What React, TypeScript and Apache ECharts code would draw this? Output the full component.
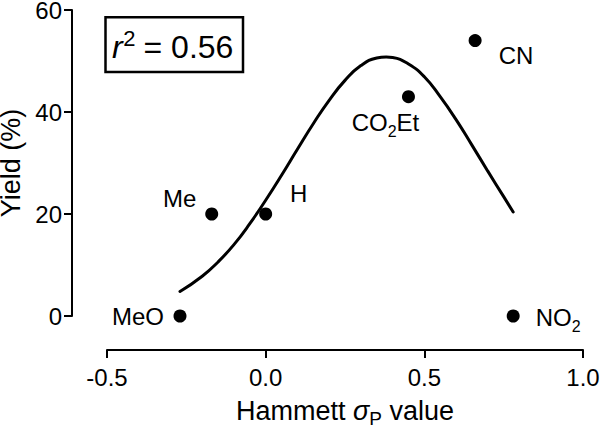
import React, { useEffect, useRef } from "react";
import * as echarts from "echarts";

// Hammett sigma_p values and yields
const substituents = ["MeO", "Me", "H", "CO2Et", "CN", "NO2"];
const labelTexts = ["MeO", "Me", "H", "CO{s|2}Et", "CN", "NO{s|2}"];
const sigmaP = [-0.27, -0.17, 0, 0.45, 0.66, 0.78];
const yieldPct = [0, 20, 20, 43, 54, 0];

// fitted curve
const fitX = [-0.27, -0.2, -0.15, -0.1, -0.05, 0, 0.05, 0.1, 0.15, 0.2, 0.25, 0.3, 0.35, 0.38, 0.4, 0.45, 0.5, 0.55, 0.6, 0.65, 0.7, 0.75, 0.78];
const fitY = [4.8, 7.8, 10.6, 14.0, 18.1, 22.7, 27.6, 32.7, 37.7, 42.3, 46.2, 49.1, 50.6, 50.8, 50.7, 49.4, 46.9, 43.0, 38.5, 33.5, 28.4, 23.4, 20.4];

const xTicks = { min: -0.5, max: 1.0, interval: 0.5 };
const yTicks = { min: 0, max: 60, interval: 20 };

const rSquared = "0.56";

// label offsets from point centers (style)
const labelOffsets = [
  [-42, 0],
  [-32, -16],
  [33, -21],
  [-23, 26],
  [41, 15],
  [45, 1],
];

const FONT = '"Liberation Sans", Arial, sans-serif';

export default function App() {
  const ref = useRef<HTMLDivElement>(null);
  useEffect(() => {
    document.body.style.margin = "0";
    const chart = echarts.init(ref.current!, null, { renderer: "svg" });
    const subRich = {
      s: { fontSize: 16, lineHeight: 16, verticalAlign: "bottom", color: "#000", fontFamily: FONT },
    };
    const option: any = {
      animation: false,
      backgroundColor: "#fff",
      textStyle: { fontFamily: FONT, color: "#000" },
      grid: { left: 107, right: 17, top: 10, bottom: 116, containLabel: false, outerBoundsMode: "none" },
      xAxis: {
        type: "value",
        min: xTicks.min,
        max: xTicks.max,
        interval: xTicks.interval,
        offset: 34,
        name: "Hammett {i|σ}{s|P} value",
        nameLocation: "middle",
        nameGap: 43,
        nameTextStyle: {
          fontSize: 27,
          color: "#000",
          fontFamily: FONT,
          lineHeight: 34,
          rich: {
            i: { fontSize: 27, fontStyle: "italic", lineHeight: 34, color: "#000", fontFamily: FONT },
            s: { fontSize: 19, lineHeight: 19, verticalAlign: "bottom", color: "#000", fontFamily: FONT },
          },
        },
        axisLine: { show: true, onZero: false, lineStyle: { color: "#000", width: 2 } },
        axisTick: { show: true, length: 8, lineStyle: { color: "#000", width: 2 } },
        axisLabel: {
          fontSize: 24,
          color: "#000",
          fontFamily: FONT,
          margin: 15,
          formatter: (v: number) => v.toFixed(1),
        },
        splitLine: { show: false },
      },
      yAxis: {
        type: "value",
        min: yTicks.min,
        max: yTicks.max,
        interval: yTicks.interval,
        offset: 35,
        name: "Yield (%)",
        nameLocation: "middle",
        nameGap: 47,
        nameRotate: 90,
        nameTextStyle: { fontSize: 27, lineHeight: 26, color: "#000", fontFamily: FONT },
        axisLine: { show: true, onZero: false, lineStyle: { color: "#000", width: 2 } },
        axisTick: { show: true, length: 8, lineStyle: { color: "#000", width: 2 } },
        axisLabel: { fontSize: 24, lineHeight: 20, color: "#000", fontFamily: FONT, margin: 10 },
        splitLine: { show: false },
      },
      series: [
        {
          type: "line",
          name: "fit",
          data: fitX.map((x, i) => [x, fitY[i]]),
          smooth: true,
          showSymbol: false,
          symbol: "none",
          lineStyle: { color: "#000", width: 3, cap: "round" },
          z: 2,
        },
        {
          type: "scatter",
          name: "yield",
          symbol: "circle",
          symbolSize: 13,
          itemStyle: { color: "#000", opacity: 1 },
          z: 3,
          data: sigmaP.map((x, i) => ({
            value: [x, yieldPct[i]],
            name: substituents[i],
            label: {
              show: true,
              position: "inside",
              offset: labelOffsets[i],
              formatter: labelTexts[i],
              fontSize: 24,
              lineHeight: 34,
              color: "#000",
              opacity: 1,
              fontFamily: FONT,
              rich: subRich,
            },
          })),
        },
      ],
      graphic: [
        {
          type: "group",
          children: [
            {
              type: "rect",
              shape: { x: 105.5, y: 17.3, width: 137.5, height: 54.7 },
              style: { fill: "none", stroke: "#000", lineWidth: 2.5 },
            },
            {
              type: "text",
              x: 112,
              y: 46.7,
              style: { text: "r", font: `italic 32px ${FONT}`, fill: "#000", align: "left", verticalAlign: "middle" },
            },
            {
              type: "text",
              x: 123.3,
              y: 38.8,
              style: { text: "2", font: `22px ${FONT}`, fill: "#000", align: "left", verticalAlign: "middle" },
            },
            {
              type: "text",
              x: 143.5,
              y: 46.7,
              style: { text: "= " + rSquared, font: `32px ${FONT}`, fill: "#000", align: "left", verticalAlign: "middle" },
            },
          ],
        },
      ],
    };
    chart.setOption(option);
    return () => chart.dispose();
  }, []);
  return <div ref={ref} style={{ width: 600, height: 432 }} />;
}
